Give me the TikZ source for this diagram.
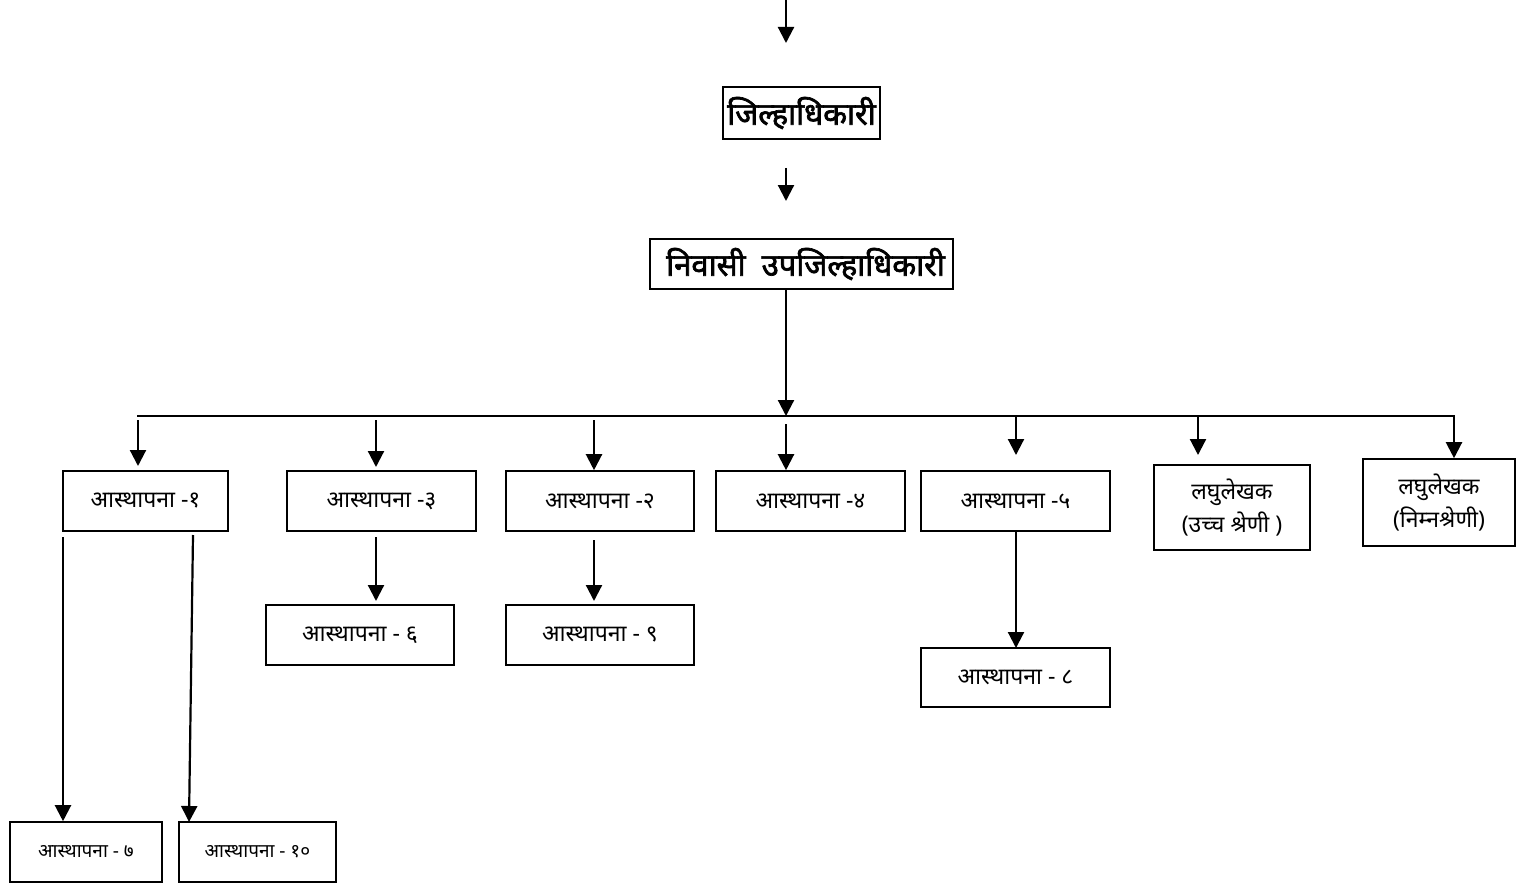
\documentclass[tikz,border=0pt]{standalone}
\usepackage{fontspec}
\setmainfont[Script=Devanagari]{Noto Sans}
\newfontfamily\titlefont[Script=Devanagari,FakeBold=2.2]{Noto Sans}
\usetikzlibrary{arrows.meta}
\tikzset{
  box/.style={draw, line width=1.6pt, inner sep=0pt, align=center, font=\fontsize{23}{33}\selectfont},
  smallbox/.style={box, font=\fontsize{19}{22}\selectfont},
  titlebox/.style={draw, line width=1.6pt, inner sep=0pt, font=\titlefont\fontsize{31}{34}\selectfont},
  arr/.style={line width=2.2pt, -{Triangle[width=16pt,length=16pt]}},
  ln/.style={line width=2pt}
}
\begin{document}
\begin{tikzpicture}[x=1pt,y=-1pt]
\useasboundingbox (0,0) rectangle (1537,888);
% title boxes
\node[titlebox, minimum width=157, minimum height=52] (jd) at (801.5,113) {जिल्हाधिकारी};
\node[titlebox, minimum width=303, minimum height=50] (nu) at (801.5,264) {\ निवासी\ \ उपजिल्हाधिकारी};
% row boxes
\node[box, minimum width=165, minimum height=60] (b1) at (145.5,501) {आस्थापना -१};
\node[box, minimum width=189, minimum height=60] (b3) at (381.5,501) {आस्थापना -३};
\node[box, minimum width=188, minimum height=60] (b2) at (600,501) {आस्थापना -२};
\node[box, minimum width=189, minimum height=60] (b4) at (810.5,501) {आस्थापना -४};
\node[box, minimum width=189, minimum height=60] (b5) at (1015.5,501) {आस्थापना -५};
\node[box, minimum width=156, minimum height=85] (l1) at (1232,507.5) {लघुलेखक\\(उच्च श्रेणी )};
\node[box, minimum width=152, minimum height=87] (l2) at (1439,502.5) {लघुलेखक\\(निम्नश्रेणी)};
% lower boxes
\node[box, minimum width=188, minimum height=60] (b6) at (360,635) {आस्थापना - ६};
\node[box, minimum width=188, minimum height=60] (b9) at (600,635) {आस्थापना - ९};
\node[box, minimum width=189, minimum height=59] (b8) at (1015.5,677.5) {आस्थापना - ८};
\node[smallbox, minimum width=152, minimum height=60] (b7) at (86,852) {आस्थापना - ७};
\node[smallbox, minimum width=157, minimum height=60] (b10) at (257.5,852) {आस्थापना - १०};
% top arrows
\coordinate (top) at (786,0);
\coordinate (topend) at (786,43);
\draw[arr] (top) -- (topend);
\coordinate (m1) at (786,168);
\coordinate (m2) at (786,201);
\draw[arr] (m1) -- (m2);
% bar
\coordinate (barL) at (137,416);
\coordinate (barR) at (1455,416);
\draw[ln] (barL) -- (barR);
\draw[arr] (nu.south -| 786,0) -- (786,416);
% arrows from bar
\coordinate (t1) at (138,420);
\coordinate (t3) at (376,420);
\coordinate (t2) at (594,420);
\coordinate (t4) at (786,424);
\coordinate (t5) at (1016,416);
\coordinate (t6) at (1198,416);
\coordinate (t7) at (1454,416);
\draw[arr] (t1) -- (t1 |- 0,466);
\draw[arr] (t3) -- (t3 |- 0,467);
\draw[arr] (t2) -- (t2 |- b2.north);
\draw[arr] (t4) -- (t4 |- b4.north);
\draw[arr] (t5) -- (t5 |- 0,455);
\draw[arr] (t6) -- (t6 |- 0,455);
\draw[arr] (t7) -- (t7 |- l2.north);
% lower arrows
\coordinate (s1a) at (63,537);
\draw[arr] (s1a) -- (s1a |- b7.north);
\coordinate (s1b) at (193,535);
\coordinate (e1b) at (189,822);
\draw[arr] (s1b) -- (e1b);
\coordinate (s3) at (376,537);
\draw[arr] (s3) -- (376,601);
\coordinate (s2) at (594,540);
\draw[arr] (s2) -- (594,601);
\draw[arr] (b5.south -| 1016,0) -- (1016,648);
\end{tikzpicture}
\end{document}
